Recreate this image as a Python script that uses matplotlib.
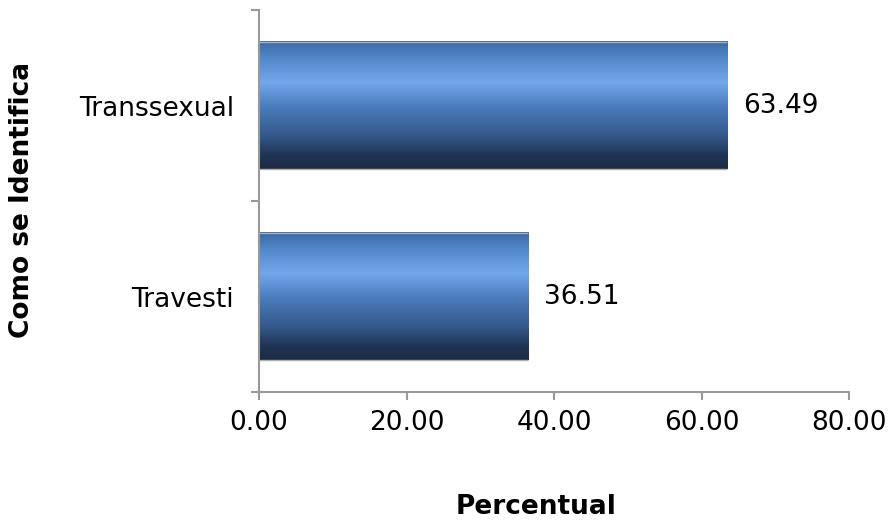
import numpy as np
import matplotlib.pyplot as plt
from matplotlib.colors import LinearSegmentedColormap

# Datos
categorias = ["Travesti", "Transsexual"]
valores = [36.51, 63.49]
etiquetas_x = ["0.00", "20.00", "40.00", "60.00", "80.00"]
ticks_x = [0, 20, 40, 60, 80]

plt.rcParams['font.family'] = ['DejaVu Sans']
fs = 19

fig = plt.figure(figsize=(8.88, 5.21), dpi=100)
ax = fig.add_axes([0.2917, 0.2476, 0.6644, 0.7332])

# Degradado vertical de las barras (de arriba hacia abajo)
degradado = LinearSegmentedColormap.from_list("barra", [
    (0.0, "#3d679f"),
    (0.12, "#5085c7"),
    (0.32, "#72a8ec"),
    (0.52, "#4a7bbb"),
    (0.74, "#34598b"),
    (0.90, "#1f3352"),
    (1.0, "#1c2c45"),
])

barras = ax.barh(range(len(categorias)), valores, height=0.667,
                 color="none", edgecolor="none", zorder=3)

grad = np.linspace(0, 1, 256).reshape(-1, 1)
for b in barras:
    x0, y0 = b.get_x(), b.get_y()
    w, h = b.get_width(), b.get_height()
    ax.imshow(grad, cmap=degradado, aspect="auto",
              extent=[x0, x0 + w, y0, y0 + h], origin="upper", zorder=2)
    # borde gris fino arriba y abajo
    ax.hlines([y0, y0 + h], x0, x0 + w, color="#b0b0b0", linewidth=1, zorder=3)

for i, v in enumerate(valores):
    ax.text(v + 2.1, i, f"{v:.2f}", va="center", ha="left", fontsize=fs)

ax.set_xlim(0, 80)
ax.set_ylim(-0.5, 1.5)
ax.set_xticks(ticks_x)
ax.set_xticklabels(etiquetas_x, fontsize=fs)

# Marcas entre categorías y etiquetas en el centro
ax.set_yticks([-0.5, 0.5, 1.5])
ax.set_yticklabels([])
ax.set_yticks(range(len(categorias)), minor=True)
ax.set_yticklabels(categorias, minor=True, fontsize=fs)
ax.tick_params(axis="y", which="minor", length=0, pad=18)
ax.tick_params(axis="y", which="major", length=6, color="#999999", width=1.5)
ax.tick_params(axis="x", length=6, color="#999999", width=1.5, pad=7)

for lado in ["top", "right"]:
    ax.spines[lado].set_visible(False)
for lado in ["left", "bottom"]:
    ax.spines[lado].set_color("#999999")
    ax.spines[lado].set_linewidth(1.5)

fig.text(0.6036, 0.027, "Percentual", ha="center", va="center",
         fontsize=fs, fontweight="bold")
fig.text(0.025, 0.616, "Como se Identifica", ha="center", va="center",
         rotation=90, fontsize=fs, fontweight="bold")

fig.savefig("out.png", dpi=100)
